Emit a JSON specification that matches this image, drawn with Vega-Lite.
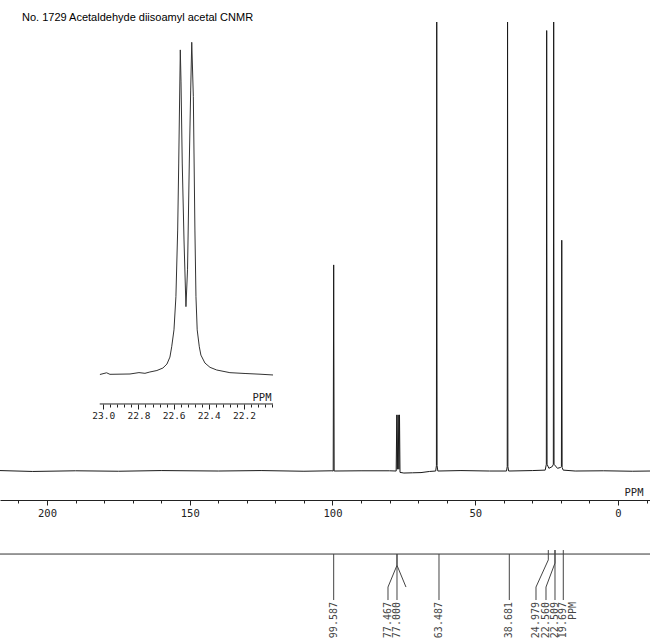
{
  "$schema": "https://vega.github.io/schema/vega-lite/v6.json",
  "width": 650,
  "height": 642,
  "padding": 0,
  "autosize": {"type": "none"},
  "background": "white",
  "config": {"view": {"stroke": null}, "font": "DejaVu Sans Mono", "axis": {"labelOverlap": false}},
  "title": {
    "text": "No. 1729 Acetaldehyde diisoamyl acetal CNMR",
    "anchor": "start",
    "frame": "group",
    "orient": "top",
    "offset": -32,
    "dx": 22,
    "font": "Liberation Sans",
    "fontSize": 11,
    "fontWeight": "normal",
    "color": "#000000",
    "baseline": "alphabetic"
  },
  "datasets": {
    "spectrum": [
      {"ppm": 216.46, "v": 0.1}, {"ppm": 205, "v": -0.1}, {"ppm": 190, "v": 0.05}, {"ppm": 175, "v": -0.05},
      {"ppm": 160, "v": 0.1}, {"ppm": 140, "v": 0}, {"ppm": 125, "v": 0.1}, {"ppm": 110, "v": -0.05},
      {"ppm": 100.2, "v": 0.05}, {"ppm": 99.75, "v": 0}, {"ppm": 99.587, "v": 45.9}, {"ppm": 99.42, "v": 0},
      {"ppm": 90, "v": 0.05}, {"ppm": 80, "v": 0.05}, {"ppm": 77.7, "v": 0}, {"ppm": 77.467, "v": 12.5},
      {"ppm": 77.3, "v": 0.4}, {"ppm": 77.0, "v": 12.5}, {"ppm": 76.75, "v": 0.4}, {"ppm": 76.533, "v": 12.5},
      {"ppm": 76.35, "v": -0.3}, {"ppm": 75, "v": -0.45}, {"ppm": 72, "v": -0.4}, {"ppm": 69, "v": -0.35},
      {"ppm": 66, "v": -0.1}, {"ppm": 63.85, "v": 0}, {"ppm": 63.6, "v": 1.2}, {"ppm": 63.487, "v": 100},
      {"ppm": 63.37, "v": 1.2}, {"ppm": 63.1, "v": 0}, {"ppm": 55, "v": 0.1}, {"ppm": 45, "v": 0},
      {"ppm": 39.05, "v": 0}, {"ppm": 38.8, "v": 1}, {"ppm": 38.681, "v": 100}, {"ppm": 38.56, "v": 1},
      {"ppm": 38.3, "v": 0}, {"ppm": 30, "v": 0.1}, {"ppm": 25.5, "v": 0.2}, {"ppm": 25.1, "v": 1.5},
      {"ppm": 24.979, "v": 98.1}, {"ppm": 24.85, "v": 1.5}, {"ppm": 24.2, "v": 0.6}, {"ppm": 23.0, "v": 1.0},
      {"ppm": 22.65, "v": 1.5}, {"ppm": 22.53, "v": 100}, {"ppm": 22.4, "v": 1.5}, {"ppm": 21.2, "v": 0.6},
      {"ppm": 20.1, "v": 0.8}, {"ppm": 19.82, "v": 1.0}, {"ppm": 19.697, "v": 51.4}, {"ppm": 19.57, "v": 0.8},
      {"ppm": 19.2, "v": 0.2}, {"ppm": 15, "v": 0}, {"ppm": 5, "v": 0.05}, {"ppm": -5, "v": -0.05},
      {"ppm": -11.21, "v": 0}
    ],
    "leaders": [
      {"id": 1, "o": 1, "ppm": 99.587, "v": -18.49}, {"id": 1, "o": 2, "ppm": 99.587, "v": -28.73},
      {"id": 2, "o": 1, "ppm": 77.41, "v": -18.49}, {"id": 2, "o": 2, "ppm": 77.41, "v": -21.0},
      {"id": 2, "o": 3, "ppm": 80.56, "v": -25.84}, {"id": 2, "o": 4, "ppm": 80.56, "v": -28.73},
      {"id": 3, "o": 1, "ppm": 77.41, "v": -18.49}, {"id": 3, "o": 2, "ppm": 77.41, "v": -28.73},
      {"id": 4, "o": 1, "ppm": 77.41, "v": -21.0}, {"id": 4, "o": 2, "ppm": 74.26, "v": -25.84},
      {"id": 5, "o": 1, "ppm": 62.7, "v": -18.49}, {"id": 5, "o": 2, "ppm": 62.7, "v": -28.73},
      {"id": 6, "o": 1, "ppm": 38.07, "v": -18.49}, {"id": 6, "o": 2, "ppm": 38.07, "v": -28.73},
      {"id": 7, "o": 1, "ppm": 24.41, "v": -17.6}, {"id": 7, "o": 2, "ppm": 24.41, "v": -19.8},
      {"id": 7, "o": 3, "ppm": 28.72, "v": -25.84}, {"id": 7, "o": 4, "ppm": 28.72, "v": -28.73},
      {"id": 8, "o": 1, "ppm": 22.07, "v": -17.6}, {"id": 8, "o": 2, "ppm": 22.07, "v": -20.5},
      {"id": 8, "o": 3, "ppm": 25.22, "v": -25.84}, {"id": 8, "o": 4, "ppm": 25.22, "v": -28.73},
      {"id": 9, "o": 1, "ppm": 22.07, "v": -17.6}, {"id": 9, "o": 2, "ppm": 22.07, "v": -28.73},
      {"id": 10, "o": 1, "ppm": 19.16, "v": -17.6}, {"id": 10, "o": 2, "ppm": 19.16, "v": -28.73}
    ],
    "labels": [
      {"lab": "99.587", "ppm": 99.587, "v": -29.18},
      {"lab": "77.467", "ppm": 80.56, "v": -29.18},
      {"lab": "77.000", "ppm": 77.41, "v": -29.18},
      {"lab": "63.487", "ppm": 62.7, "v": -29.18},
      {"lab": "38.681", "ppm": 38.07, "v": -29.18},
      {"lab": "24.979", "ppm": 28.72, "v": -29.18},
      {"lab": "22.560", "ppm": 25.22, "v": -29.18},
      {"lab": "22.509", "ppm": 22.07, "v": -29.18},
      {"lab": "19.697", "ppm": 19.16, "v": -29.18},
      {"lab": "PPM", "ppm": 15.66, "v": -29.18}
    ],
    "labelline": [{"v": -18.49}],
    "inset": [
      {"ppm": 23.019, "v": -0.15}, {"ppm": 22.981, "v": 0.36}, {"ppm": 22.962, "v": -0.1}, {"ppm": 22.848, "v": 0},
      {"ppm": 22.797, "v": 0.42}, {"ppm": 22.763, "v": 0.2}, {"ppm": 22.735, "v": 0.6}, {"ppm": 22.695, "v": 1.05},
      {"ppm": 22.661, "v": 1.8}, {"ppm": 22.638, "v": 3.0}, {"ppm": 22.621, "v": 5.1}, {"ppm": 22.611, "v": 8.2},
      {"ppm": 22.598, "v": 13.3}, {"ppm": 22.587, "v": 23.3}, {"ppm": 22.577, "v": 43.4}, {"ppm": 22.571, "v": 63.6},
      {"ppm": 22.566, "v": 82.6}, {"ppm": 22.562, "v": 97.7}, {"ppm": 22.558, "v": 88.3}, {"ppm": 22.551, "v": 63.6},
      {"ppm": 22.541, "v": 40.4}, {"ppm": 22.53, "v": 20.3}, {"ppm": 22.521, "v": 31.4}, {"ppm": 22.511, "v": 63.6},
      {"ppm": 22.503, "v": 85.6}, {"ppm": 22.497, "v": 100}, {"ppm": 22.488, "v": 83.6}, {"ppm": 22.479, "v": 43.4},
      {"ppm": 22.473, "v": 23.3}, {"ppm": 22.466, "v": 13.3}, {"ppm": 22.454, "v": 8.2}, {"ppm": 22.445, "v": 5.7},
      {"ppm": 22.422, "v": 3.3}, {"ppm": 22.393, "v": 2.0}, {"ppm": 22.355, "v": 1.2}, {"ppm": 22.28, "v": 0.4},
      {"ppm": 22.194, "v": 0.15}, {"ppm": 22.109, "v": -0.06}, {"ppm": 22.035, "v": -0.3}
    ],
    "insetaxis": [{"ppm": 23.02, "ppm2": 22.035, "v": -9.04}]
  },
  "layer": [
    {
      "layer": [
        {
          "data": {"name": "spectrum"},
          "mark": {"type": "line", "color": "#1a1a1a", "strokeWidth": 1, "interpolate": "linear"},
          "encoding": {
            "x": {
              "field": "ppm", "type": "quantitative",
              "scale": {"domain": [-11.21, 216.46], "reverse": true, "nice": false, "zero": false},
              "axis": {
                "orient": "bottom", "offset": -142,
                "values": [0, 50, 100, 150, 200],
                "labelOverlap": false,
                "tickSize": 5,
                "grid": false,
                "domainColor": "#222222", "tickColor": "#222222", "labelColor": "#222222",
                "labelFont": "DejaVu Sans Mono", "labelFontSize": 10.5, "labelPadding": 3,
                "title": "PPM", "titleX": 643, "titleY": -3, "titleAlign": "right", "titleBaseline": "bottom",
                "titleFont": "DejaVu Sans Mono", "titleFontSize": 10.5, "titleFontWeight": "normal", "titleColor": "#222222"
              }
            },
            "y": {
              "field": "v", "type": "quantitative",
              "scale": {"domain": [-38.08, 104.9], "nice": false, "zero": false},
              "axis": null
            }
          }
        },
        {
          "data": {"name": "labelline"},
          "mark": {"type": "rule", "color": "#333333", "strokeWidth": 1},
          "encoding": {"y": {"field": "v", "type": "quantitative"}}
        },
        {
          "data": {"name": "leaders"},
          "mark": {"type": "line", "color": "#444444", "strokeWidth": 1},
          "encoding": {
            "x": {"field": "ppm", "type": "quantitative"},
            "y": {"field": "v", "type": "quantitative"},
            "detail": {"field": "id", "type": "nominal"},
            "order": {"field": "o", "type": "quantitative"}
          }
        },
        {
          "data": {"name": "labels"},
          "mark": {"type": "text", "angle": 270, "align": "right", "baseline": "middle", "font": "DejaVu Sans Mono", "fontSize": 10, "color": "#444444"},
          "encoding": {
            "x": {"field": "ppm", "type": "quantitative"},
            "y": {"field": "v", "type": "quantitative"},
            "text": {"field": "lab", "type": "nominal"}
          }
        }
      ]
    },
    {
      "data": {"name": "spectrum"},
      "mark": {"type": "line", "opacity": 0},
      "encoding": {
        "x": {
          "field": "ppm", "type": "quantitative",
          "scale": {"domain": [-11.21, 216.46], "reverse": true, "nice": false, "zero": false},
          "axis": {
            "orient": "bottom", "offset": -142, "domain": false, "labels": false, "grid": false, "title": null,
            "values": [-10, 10, 20, 30, 40, 60, 70, 80, 90, 110, 120, 130, 140, 160, 170, 180, 190, 210],
            "tickSize": 3, "tickColor": "#222222"
          }
        },
        "y": {
          "field": "v", "type": "quantitative",
          "scale": {"domain": [-38.08, 104.9], "nice": false, "zero": false},
          "axis": null
        }
      }
    },
    {
      "layer": [
        {
          "data": {"name": "inset"},
          "mark": {"type": "line", "color": "#333333", "strokeWidth": 1},
          "encoding": {
            "x": {
              "field": "ppm", "type": "quantitative",
              "scale": {"domain": [19.892, 23.587], "reverse": true, "nice": false, "zero": false},
              "axis": {
                "orient": "bottom", "offset": -238, "domain": false,
                "values": [23.0, 22.8, 22.6, 22.4, 22.2],
                "format": ".1f",
                "labelOverlap": false,
                "tickSize": 5,
                "grid": false, "tickColor": "#222222", "labelColor": "#222222",
                "labelFont": "DejaVu Sans Mono", "labelFontSize": 9.5, "labelPadding": 1,
                "title": "PPM", "titleX": 271, "titleY": -2, "titleAlign": "right", "titleBaseline": "bottom",
                "titleFont": "DejaVu Sans Mono", "titleFontSize": 10.5, "titleFontWeight": "normal", "titleColor": "#222222"
              }
            },
            "y": {
              "field": "v", "type": "quantitative",
              "scale": {"domain": [-80.8, 112.75], "nice": false, "zero": false},
              "axis": null
            }
          }
        },
        {
          "data": {"name": "insetaxis"},
          "mark": {"type": "rule", "color": "#222222", "strokeWidth": 1},
          "encoding": {
            "x": {"field": "ppm", "type": "quantitative"},
            "x2": {"field": "ppm2"},
            "y": {"field": "v", "type": "quantitative"}
          }
        }
      ]
    },
    {
      "data": {"name": "inset"},
      "mark": {"type": "line", "opacity": 0},
      "encoding": {
        "x": {
          "field": "ppm", "type": "quantitative",
          "scale": {"domain": [19.892, 23.587], "reverse": true, "nice": false, "zero": false},
          "axis": {
            "orient": "bottom", "offset": -238, "domain": false, "labels": false, "grid": false, "title": null,
            "values": [22.96, 22.92, 22.88, 22.84, 22.76, 22.72, 22.68, 22.64, 22.56, 22.52, 22.48, 22.44, 22.36, 22.32, 22.28, 22.24, 22.16, 22.12, 22.08, 22.04],
            "tickSize": 3, "tickColor": "#222222"
          }
        },
        "y": {
          "field": "v", "type": "quantitative",
          "scale": {"domain": [-80.8, 112.75], "nice": false, "zero": false},
          "axis": null
        }
      }
    }
  ],
  "resolve": {"scale": {"x": "independent", "y": "independent"}, "axis": {"x": "independent", "y": "independent"}}
}
